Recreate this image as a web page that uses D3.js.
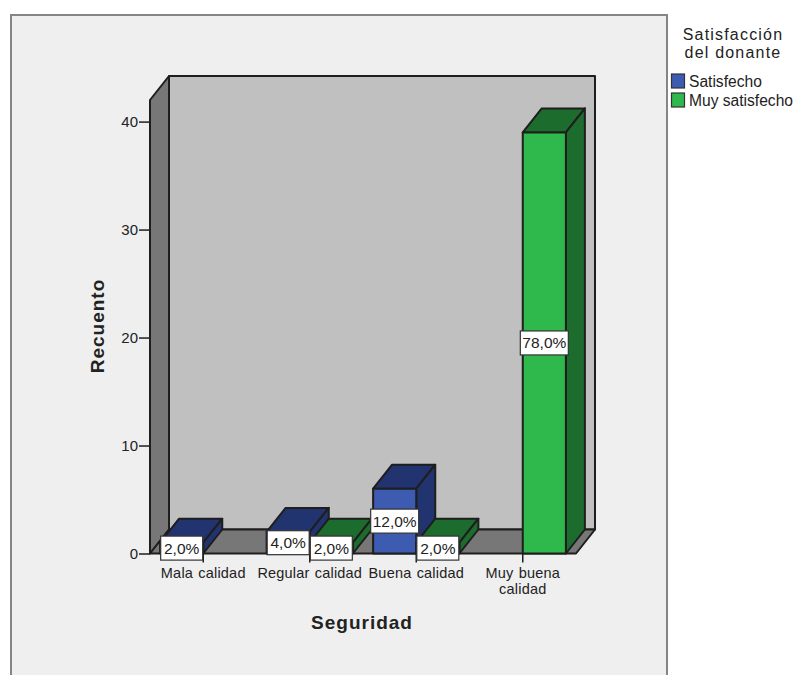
<!DOCTYPE html>
<html>
<head>
<meta charset="utf-8">
<script src="https://cdn.jsdelivr.net/npm/d3@7"></script>
<style>
html,body{margin:0;padding:0;background:#fff}
svg{display:block}
text{font-family:"Liberation Sans",Arial,sans-serif;fill:#222}
</style>
</head>
<body>
<svg id="chart" width="795" height="675"></svg>
<script>
// Counts per quality rating, split by donor satisfaction
const categories = ["Mala calidad", "Regular calidad", "Buena calidad", "Muy buena calidad"];
const seriesNames = ["Satisfecho", "Muy satisfecho"];
const satisfecho = [1, 2, 6, 0];
const muySatisfecho = [0, 1, 1, 39];
const satisfechoLabels = ["2,0%", "4,0%", "12,0%", ""];
const muySatisfechoLabels = ["", "2,0%", "2,0%", "78,0%"];
const yTicks = [0, 10, 20, 30, 40];

const palette = {
  Satisfecho: {front: "#3d5bb0", dark: "#22346f"},
  "Muy satisfecho": {front: "#2fb84b", dark: "#1c6c2d"}
};
const ink = "#1e1e1e";
const depth = {x: 19, y: 24};

const svg = d3.select("#chart");

// Panel behind the plot; its bottom edge runs off the page
svg.append("rect").attr("x", 11).attr("y", 15).attr("width", 656).attr("height", 680)
  .attr("fill", "#efefef").attr("stroke", "#858585").attr("stroke-width", 2);

const x = d3.scaleBand().domain(categories).range([150, 576]);
const y = d3.scaleLinear().domain([0, 42]).range([553.5, 100]);
const x0 = x.range()[0], x1 = x.range()[1];
const yBase = y(0), yTop = y(42);
const poly = pts => pts.map(p => p.join(",")).join(" ");

// Box walls: back, left and floor
const box = svg.append("g").attr("stroke", ink).attr("stroke-width", 2).attr("stroke-linejoin", "round");
box.append("polygon").attr("fill", "#c0c0c0")
  .attr("points", poly([[x0 + depth.x, yTop - depth.y], [x1 + depth.x, yTop - depth.y], [x1 + depth.x, yBase - depth.y], [x0 + depth.x, yBase - depth.y]]));
box.append("polygon").attr("fill", "#777777")
  .attr("points", poly([[x0, yTop], [x0 + depth.x, yTop - depth.y], [x0 + depth.x, yBase - depth.y], [x0, yBase]]));
box.append("polygon").attr("fill", "#777777")
  .attr("points", poly([[x0, yBase], [x0 + depth.x, yBase - depth.y], [x1 + depth.x, yBase - depth.y], [x1, yBase]]));

// Axes
const yAxis = d3.axisLeft(y).tickValues(yTicks).tickSize(11).tickPadding(1);
const xAxis = d3.axisBottom(x).tickSize(9).tickPadding(5);

const gy = svg.append("g").attr("transform", `translate(${x0},0)`).call(yAxis);
const gx = svg.append("g").attr("transform", `translate(0,${yBase})`).call(xAxis);
[gy, gx].forEach(g => {
  g.select(".domain").remove();
  g.selectAll(".tick line").attr("stroke", ink).attr("stroke-width", 1.5);
  g.selectAll(".tick text").attr("font-size", 15).attr("fill", "#222")
    .attr("font-family", '"Liberation Sans",Arial,sans-serif');
});
gx.selectAll(".tick text").attr("font-size", 14.5).attr("letter-spacing", 0.2).attr("word-spacing", 1);

// The longest category wraps onto two lines
gx.selectAll(".tick text").each(function (d) {
  if (d !== "Muy buena calidad") return;
  const t = d3.select(this).text(null);
  t.append("tspan").attr("x", 0).attr("dy", "0.71em").text("Muy buena");
  t.append("tspan").attr("x", 0).attr("dy", "1.1em").text("calidad");
});

// Grouped bars, one column per series on either side of the band centre
const barW = x.bandwidth() * 0.405;
const rows = [];
categories.forEach((c, i) => {
  const mid = x(c) + x.bandwidth() / 2;
  rows.push({series: seriesNames[0], value: satisfecho[i], label: satisfechoLabels[i], left: mid - barW});
  rows.push({series: seriesNames[1], value: muySatisfecho[i], label: muySatisfechoLabels[i], left: mid});
});
const drawn = rows.filter(r => r.value > 0);

const bars = svg.append("g").attr("stroke", ink).attr("stroke-width", 2).attr("stroke-linejoin", "round");
drawn.forEach(r => {
  const l = r.left, h = r.left + barW, t = y(r.value), c = palette[r.series];
  const g = bars.append("g");
  g.append("polygon").attr("fill", c.dark)
    .attr("points", poly([[l, t], [l + depth.x, t - depth.y], [h + depth.x, t - depth.y], [h, t]]));
  g.append("polygon").attr("fill", c.dark)
    .attr("points", poly([[h, t], [h + depth.x, t - depth.y], [h + depth.x, yBase - depth.y], [h, yBase]]));
  g.append("rect").attr("x", l).attr("y", t).attr("width", barW).attr("height", yBase - t).attr("fill", c.front);
});

// Percentage tags centred on each bar's front face
const tags = svg.append("g");
drawn.filter(r => r.label).forEach(r => {
  const cx = r.left + barW / 2, cy = y(r.value / 2);
  const w = r.label.length > 4 ? 48 : 42, hgt = 24;
  tags.append("rect").attr("x", cx - w / 2).attr("y", cy - hgt / 2).attr("width", w).attr("height", hgt)
    .attr("fill", "#fff").attr("stroke", "#333").attr("stroke-width", 1.2);
  tags.append("text").attr("x", cx).attr("y", cy + 5.5).attr("text-anchor", "middle")
    .attr("font-size", 15.5).text(r.label);
});

// Axis titles
svg.append("text").attr("transform", "translate(104,326) rotate(-90)").attr("text-anchor", "middle")
  .attr("font-size", 19).attr("font-weight", "bold").attr("letter-spacing", 1).attr("fill", "#111").text("Recuento");
svg.append("text").attr("x", 362).attr("y", 629).attr("text-anchor", "middle")
  .attr("font-size", 19).attr("font-weight", "bold").attr("letter-spacing", 1).attr("fill", "#111").text("Seguridad");

// Legend
const legendTitle = ["Satisfacción", "del donante"];
legendTitle.forEach((s, i) => {
  svg.append("text").attr("x", 733).attr("y", 40 + i * 18).attr("text-anchor", "middle")
    .attr("font-size", 16).attr("letter-spacing", 1.2).attr("fill", "#333").text(s);
});
seriesNames.forEach((s, i) => {
  const top = 74 + i * 19;
  svg.append("rect").attr("x", 671.5).attr("y", top).attr("width", 13).attr("height", 14)
    .attr("fill", palette[s].front).attr("stroke", "#333").attr("stroke-width", 1.2);
  svg.append("text").attr("x", 689).attr("y", top + 12.5).attr("font-size", 15.6).text(s);
});
</script>
</body>
</html>
